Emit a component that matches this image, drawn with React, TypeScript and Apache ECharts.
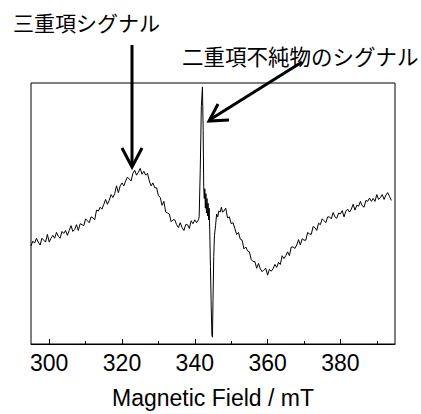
import React, { useEffect, useRef } from "react";
import * as echarts from "echarts";

// Magnetic field (mT) sample positions and EPR signal (a.u.)
const fieldLow: number[] = [
  295.0, 295.5, 296.0, 296.5, 297.0, 297.5, 298.0, 298.5, 299.0, 299.5,
  300.0, 300.5, 301.0, 301.5, 302.0, 302.5, 303.0, 303.5, 304.0, 304.5,
  305.0, 305.5, 306.0, 306.5, 307.0, 307.5, 308.0, 308.5, 309.0, 309.5,
  310.0, 310.5, 311.0, 311.5, 312.0, 312.5, 313.0, 313.5, 314.0, 314.5,
  315.0, 315.5, 316.0, 316.5, 317.0, 317.5, 318.0, 318.5, 319.0, 319.5,
  320.0, 320.5, 321.0, 321.5, 322.0, 322.5, 323.0, 323.5, 324.0, 324.5,
  325.0, 325.5, 326.0, 326.5, 327.0, 327.5, 328.0, 328.5, 329.0, 329.5,
  330.0, 330.5, 331.0, 331.5, 332.0, 332.5, 333.0, 333.5, 334.0, 334.5,
  335.0, 335.5, 336.0, 336.5, 337.0, 337.5, 338.0, 338.5, 339.0, 339.5,
  340.0, 340.5, 341.0,
];
const signalLow: number[] = [
  101, 106, 104, 109, 105, 102, 109, 107, 105, 113,
  105, 109, 112, 109, 115, 111, 109, 116, 114, 117,
  112, 117, 122, 116, 118, 123, 117, 124, 123, 122,
  129, 127, 125, 131, 130, 128, 138, 137, 141, 139,
  144, 149, 144, 148, 154, 151, 155, 163, 156, 163,
  166, 163, 168, 172, 170, 168, 176, 179, 174, 177,
  181, 175, 178, 174, 176, 168, 163, 166, 161, 161,
  153, 151, 143, 147, 136, 135, 134, 126, 128, 128,
  123, 120, 125, 120, 117, 123, 123, 119, 127, 124,
  128, 125, 128,
];

// Doublet impurity line region
const fieldSpike: number[] = [
  341.2, 341.5, 341.8, 342.1, 342.3, 342.45, 342.6, 342.75, 342.9, 343.05,
  343.2, 343.35, 343.5, 343.65, 343.8, 343.95, 344.1, 344.3, 344.5, 344.7,
  344.85, 345.0, 345.2, 345.4, 345.7,
];
const signalSpike: number[] = [
  131, 180, 245, 265, 220, 162, 150, 160, 140, 155,
  135, 150, 132, 145, 128, 140, 118, 80, 40, 9,
  7, 45, 90, 112, 122,
];

const fieldHigh: number[] = [
  346.0, 346.3, 346.6, 347.0, 347.3, 347.6, 348.0, 348.5, 349.0, 349.5,
  350.0, 350.5, 351.0, 351.5, 352.0, 352.5, 353.0, 353.5, 354.0, 354.5,
  355.0, 355.5, 356.0, 356.5, 357.0, 357.5, 358.0, 358.5, 359.0, 359.5,
  360.0, 360.5, 361.0, 361.5, 362.0, 362.5, 363.0, 363.5, 364.0, 364.5,
  365.0, 365.5, 366.0, 366.5, 367.0, 367.5, 368.0, 368.5, 369.0, 369.5,
  370.0, 370.5, 371.0, 371.5, 372.0, 372.5, 373.0, 373.5, 374.0, 374.5,
  375.0, 375.5, 376.0, 376.5, 377.0, 377.5, 378.0, 378.5, 379.0, 379.5,
  380.0, 380.5, 381.0, 381.5, 382.0, 382.5, 383.0, 383.5, 384.0, 384.5,
  385.0, 385.5, 386.0, 386.5, 387.0, 387.5, 388.0, 388.5, 389.0, 389.5,
  390.0, 390.5, 391.0, 391.5, 392.0, 392.5, 393.0, 393.5, 394.0,
];
const signalHigh: number[] = [
  134, 131, 137, 136, 141, 136, 137, 140, 130, 131,
  124, 125, 119, 113, 115, 108, 107, 98, 100, 96,
  95, 87, 85, 85, 78, 83, 77.5, 74.5, 76.5, 78,
  71, 77, 75, 77.5, 82, 79, 84, 82, 91, 88,
  91, 95, 91, 100, 100, 98.5, 102, 107.5, 102, 108.5,
  107, 107, 115, 113.5, 113, 121, 120, 117, 124.5, 123,
  129, 127, 125, 131, 131, 129, 135.5, 131, 129.5, 135,
  134, 137.5, 131, 137, 139, 136, 139, 144, 138, 143,
  142, 147, 142.5, 141, 148, 147, 150.5, 147, 150, 147,
  154, 149, 151, 154, 149, 153.5, 156, 152, 148,
];

const majorTicks: number[] = [300, 320, 340, 360, 380];
const minorTicks: number[] = [310, 330, 350, 370, 390];
const annotationTriplet = "三重項シグナル";
const annotationDoublet = "二重項不純物のシグナル";
const axisTitle = "Magnetic Field / mT";

export default function App() {
  const ref = useRef<HTMLDivElement>(null);
  useEffect(() => {
    if (!ref.current) return;
    const chart = echarts.init(ref.current, undefined, { renderer: "svg" });
    const fields = [...fieldLow, ...fieldSpike, ...fieldHigh];
    const signals = [...signalLow, ...signalSpike, ...signalHigh];
    const data = fields.map((f, i) => [f, signals[i]]);
    const latin = "'Liberation Sans', Arial, sans-serif";
    const cjk = "'Noto Sans CJK JP', sans-serif";
    chart.setOption({
      animation: false,
      backgroundColor: "#fff",
      grid: {
        left: 31,
        right: 26,
        top: 83,
        bottom: 62,
        show: true,
        borderColor: "#000",
        borderWidth: 1,
        backgroundColor: "transparent",
      },
      xAxis: [
        {
          type: "value",
          min: 295,
          max: 395,
          position: "bottom",
          name: axisTitle,
          nameLocation: "middle",
          nameGap: 42,
          nameTextStyle: { fontFamily: latin, fontSize: 23, color: "#000" },
          axisLine: { show: true, lineStyle: { color: "#000", width: 1 } },
          axisTick: {
            show: true,
            inside: true,
            length: 5,
            customValues: majorTicks,
            lineStyle: { color: "#000", width: 1 },
          },
          axisLabel: {
            show: true,
            customValues: majorTicks,
            margin: 7,
            fontFamily: latin,
            fontSize: 23,
            color: "#000",
          },
          splitLine: { show: false },
        },
        {
          type: "value",
          min: 295,
          max: 395,
          position: "bottom",
          axisLine: { show: false },
          axisTick: {
            show: true,
            inside: true,
            length: 3,
            customValues: minorTicks,
            lineStyle: { color: "#000", width: 1 },
          },
          axisLabel: { show: false },
          splitLine: { show: false },
        },
      ],
      yAxis: {
        type: "value",
        min: 0,
        max: 269,
        axisLine: { show: false },
        axisTick: { show: false },
        axisLabel: { show: false },
        splitLine: { show: false },
      },
      series: [
        {
          type: "line",
          xAxisIndex: 0,
          data,
          showSymbol: false,
          symbol: "none",
          lineStyle: { color: "#000", width: 1 },
        },
      ],
      graphic: [
        {
          type: "text",
          left: 13,
          top: 11,
          style: { text: annotationTriplet, font: `21px ${cjk}`, fill: "#000" },
        },
        {
          type: "text",
          left: 182,
          top: 45,
          style: { text: annotationDoublet, font: `21.5px ${cjk}`, fill: "#000" },
        },
        {
          type: "line",
          shape: { x1: 132, y1: 45, x2: 132, y2: 165 },
          style: { stroke: "#000", lineWidth: 3 },
        },
        {
          type: "polyline",
          shape: { points: [[122, 148], [132, 167], [142, 148]] },
          style: { stroke: "#000", lineWidth: 3, fill: null },
        },
        {
          type: "line",
          shape: { x1: 302, y1: 62, x2: 211, y2: 119 },
          style: { stroke: "#000", lineWidth: 3 },
        },
        {
          type: "polyline",
          shape: { points: [[218, 104], [209, 121], [229, 120]] },
          style: { stroke: "#000", lineWidth: 3, fill: null },
        },
      ],
    });
    return () => chart.dispose();
  }, []);
  return <div ref={ref} style={{ width: 421, height: 414, position: "absolute", left: 0, top: 0 }} />;
}
